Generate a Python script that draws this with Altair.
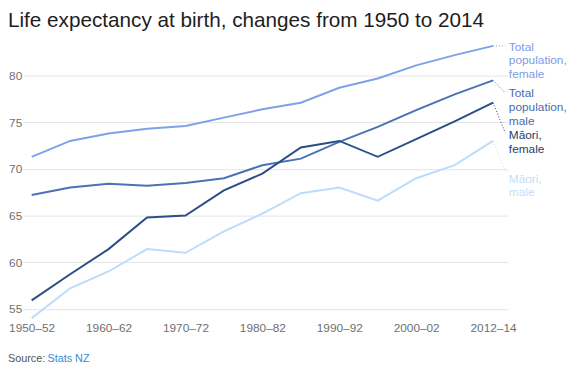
import altair as alt
import pandas as pd

PERIODS = ["1950–52", "1955–57", "1960–62", "1965–67", "1970–72", "1975–77", "1980–82",
           "1985–87", "1990–92", "1995–97", "2000–02", "2005–07", "2012–14"]
TOTAL_FEMALE = [71.3, 73.0, 73.8, 74.3, 74.6, 75.5, 76.4, 77.1, 78.7, 79.7, 81.1, 82.2, 83.2]
TOTAL_MALE = [67.2, 68.0, 68.4, 68.2, 68.5, 69.0, 70.4, 71.1, 72.9, 74.5, 76.3, 78.0, 79.5]
MAORI_FEMALE = [55.9, 58.7, 61.4, 64.8, 65.0, 67.7, 69.5, 72.3, 73.0, 71.3, 73.2, 75.1, 77.1]
MAORI_MALE = [54.0, 57.2, 59.0, 61.4, 61.0, 63.3, 65.2, 67.4, 68.0, 66.6, 69.0, 70.4, 73.0]

SERIES = ["Total population, female", "Total population, male", "Māori, female", "Māori, male"]
SERIES_LABELS = ["Total\npopulation,\nfemale", "Total\npopulation,\nmale", "Māori,\nfemale", "Māori,\nmale"]
VALUES = [TOTAL_FEMALE, TOTAL_MALE, MAORI_FEMALE, MAORI_MALE]
LINE_COLORS = ["#7fa1e8", "#4c71b4", "#2c4e86", "#bddcfa"]
LABEL_COLORS = ["#7c9de6", "#4a6cae", "#2a3c66", "#c2defb"]

X_LABEL_IDX = [0, 2, 4, 6, 8, 10, 12]
Y_TICKS = [55, 60, 65, 70, 75, 80]

TITLE = "Life expectancy at birth, changes from 1950 to 2014"
SOURCE_PREFIX = "Source: "
SOURCE_LINK = "Stats NZ"

# layout / style constants (pixels)
W, H = 492, 279
Y_DOMAIN = [54, 83.5]
X_DOMAIN = [-9 / 39, 12 + 15 / 39]
PX_PER_UNIT = H / (Y_DOMAIN[1] - Y_DOMAIN[0])
LEADER_DY = [0, 13, 31, 31]      # leader end below line end (px)
LABEL_DY = [1, 13.5, 33, 38.5]   # first label line centre below line end (px)
FONT = "Liberation Sans"

rows = []
for s, vals in zip(SERIES, VALUES):
    for i, v in enumerate(vals):
        rows.append({"series": s, "i": i, "value": v})
df = pd.DataFrame(rows)

label_expr = "[" + ",".join("'" + p + "'" for p in PERIODS) + "][datum.value]"

x_enc = alt.X("i:Q", scale=alt.Scale(domain=X_DOMAIN, nice=False, zero=False),
              axis=alt.Axis(values=X_LABEL_IDX, labelExpr=label_expr, grid=False, domain=False,
                            ticks=False, title=None, labelFontSize=12, labelColor="#707070",
                            labelPadding=5, labelFont=FONT))
y_enc = alt.Y("value:Q", scale=alt.Scale(domain=Y_DOMAIN, nice=False, zero=False),
              axis=alt.Axis(values=Y_TICKS, grid=True, gridColor="#e4e4e4", gridWidth=1,
                            domain=False, ticks=False, title=None, labelFontSize=12,
                            labelColor="#707070", labelPadding=1, labelFont=FONT))

lines = alt.Chart(df).mark_line(strokeWidth=2).encode(
    x=x_enc, y=y_enc,
    color=alt.Color("series:N", scale=alt.Scale(domain=SERIES, range=LINE_COLORS), legend=None),
)

layers = [lines]
last = len(PERIODS) - 1
for k, s in enumerate(SERIES):
    end_v = VALUES[k][last]
    ed = pd.DataFrame([{
        "i": last,
        "i2": last + 12.5 / 39,
        "value": end_v,
        "leader": end_v - LEADER_DY[k] / PX_PER_UNIT,
        "label_y": end_v - (LABEL_DY[k] - 5.2) / PX_PER_UNIT,
        "label": SERIES_LABELS[k],
    }])
    layers.append(alt.Chart(ed).mark_rule(strokeDash=[1, 2], strokeWidth=1, color=LABEL_COLORS[k]).encode(
        x="i:Q", x2="i2:Q", y="value:Q", y2="leader:Q"))
    layers.append(alt.Chart(ed).mark_text(align="left", baseline="top", dx=16, fontSize=12,
                                          lineBreak="\n", lineHeight=14, font=FONT,
                                          color=LABEL_COLORS[k]).encode(
        x="i:Q", y="label_y:Q", text="label:N"))

one = pd.DataFrame([{"title": TITLE, "src": SOURCE_PREFIX, "link": SOURCE_LINK}])
layers.append(alt.Chart(one).mark_text(align="left", baseline="alphabetic", fontSize=21, font=FONT,
                                       color="#1e1e1e").encode(
    x=alt.value(-15), y=alt.value(-16), text="title:N"))
layers.append(alt.Chart(one).mark_text(align="left", baseline="alphabetic", fontSize=11, font=FONT,
                                       color="#555555").encode(
    x=alt.value(-15), y=alt.value(324), text="src:N"))
layers.append(alt.Chart(one).mark_text(align="left", baseline="alphabetic", fontSize=11, font=FONT,
                                       color="#3a8ad6").encode(
    x=alt.value(-15 + 40), y=alt.value(324), text="link:N"))

chart = alt.layer(*layers).properties(
    width=W, height=H,
    autosize=alt.AutoSizeParams(type="none"),
    padding={"left": 15, "top": 33, "right": 62, "bottom": 44},
).configure_view(stroke=None)

chart.save("out.html", embed_options={"renderer": "svg", "actions": False})
